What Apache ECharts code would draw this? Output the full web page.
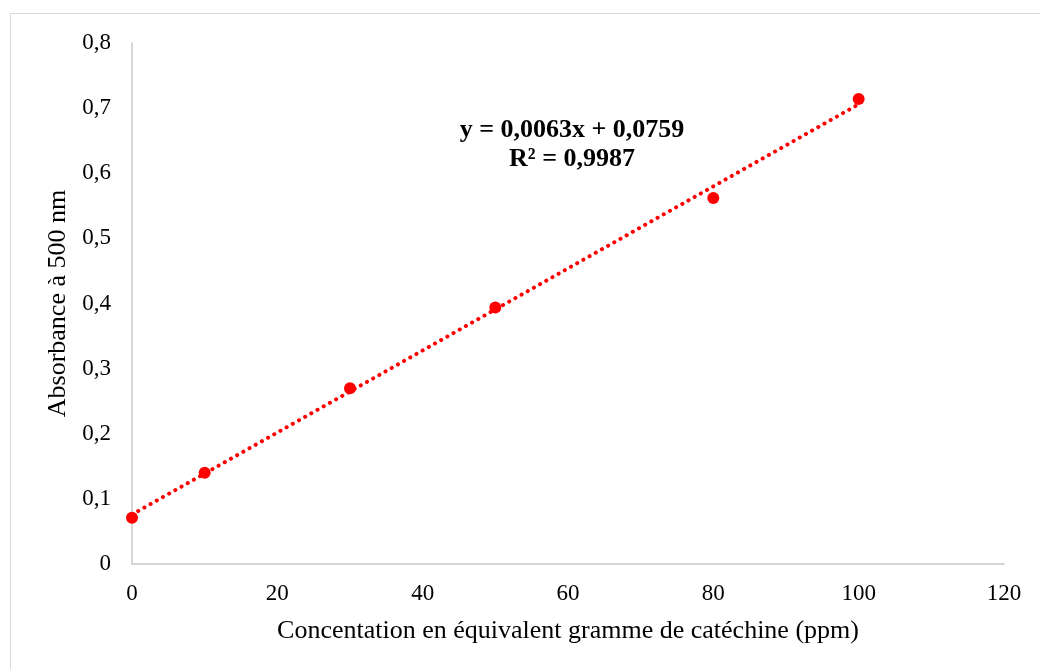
<!DOCTYPE html>
<html>
<head>
<meta charset="utf-8">
<script src="https://cdn.jsdelivr.net/npm/echarts@6/dist/echarts.min.js"></script>
<style>
html,body{margin:0;padding:0;background:#fff;}
#frame{position:absolute;left:10px;top:13px;width:1060px;height:700px;border:1px solid #d9d9d9;box-sizing:border-box;}
#chart{position:absolute;left:0;top:0;width:1040px;height:669px;}
</style>
</head>
<body>
<div id="frame"></div>
<div id="chart"></div>
<script>
const concentrations = [0, 10, 30, 50, 80, 100];
const absorbances = [0.071, 0.140, 0.270, 0.394, 0.562, 0.714];
const trendX = [0, 100];
const trendY = [0.0759, 0.7059];
const xTicks = [0, 20, 40, 60, 80, 100, 120];
const equationLines = ['y = 0,0063x + 0,0759', 'R² = 0,9987'];
const xTitle = 'Concentation en équivalent gramme de catéchine (ppm)';
const yTitle = 'Absorbance à 500 nm';

const font = '"Liberation Serif","Times New Roman",serif';
const chart = echarts.init(document.getElementById('chart'));
chart.setOption({
  animation: false,
  backgroundColor: 'transparent',
  grid: {left: 132, right: 36, top: 43, bottom: 105, containLabel: false},
  xAxis: {
    type: 'value', min: xTicks[0], max: xTicks[xTicks.length - 1], interval: xTicks[1] - xTicks[0],
    name: xTitle, nameLocation: 'middle', nameGap: 54,
    nameTextStyle: {fontFamily: font, fontSize: 26, color: '#000'},
    axisLine: {show: true, lineStyle: {color: '#c8c8c8', width: 1.5}},
    axisTick: {show: false},
    splitLine: {show: false},
    axisLabel: {fontFamily: font, fontSize: 23, color: '#000', margin: 18,
      formatter: v => String(v)}
  },
  yAxis: {
    type: 'value', min: 0, max: 0.8, interval: 0.1,
    name: yTitle, nameLocation: 'middle', nameGap: 57, nameRotate: 90,
    nameTextStyle: {fontFamily: font, fontSize: 26, color: '#000'},
    axisLine: {show: true, onZero: false, lineStyle: {color: '#c8c8c8', width: 1.5}},
    axisTick: {show: false},
    splitLine: {show: false},
    axisLabel: {fontFamily: font, fontSize: 23, color: '#000', margin: 21,
      formatter: v => v === 0 ? '0' : v.toFixed(1).replace('.', ',')}
  },
  series: [
    {
      type: 'line',
      data: trendX.map((x, i) => [x, trendY[i]]),
      showSymbol: false, symbol: 'none',
      lineStyle: {color: '#ff0000', width: 4, type: [0.1, 7], cap: 'round'},
      z: 2
    },
    {
      type: 'scatter',
      data: concentrations.map((x, i) => [x, absorbances[i]]),
      symbol: 'circle', symbolSize: 12,
      itemStyle: {color: '#ff0000', opacity: 1},
      z: 3
    }
  ],
  graphic: [
    {type: 'text', position: [572, 130], style: {text: equationLines[0], fontFamily: font, fontSize: 26, fontWeight: 'bold', fill: '#000', textAlign: 'center', textVerticalAlign: 'middle'}},
    {type: 'text', position: [572, 159], style: {text: equationLines[1], fontFamily: font, fontSize: 26, fontWeight: 'bold', fill: '#000', textAlign: 'center', textVerticalAlign: 'middle'}}
  ]
});
</script>
</body>
</html>
